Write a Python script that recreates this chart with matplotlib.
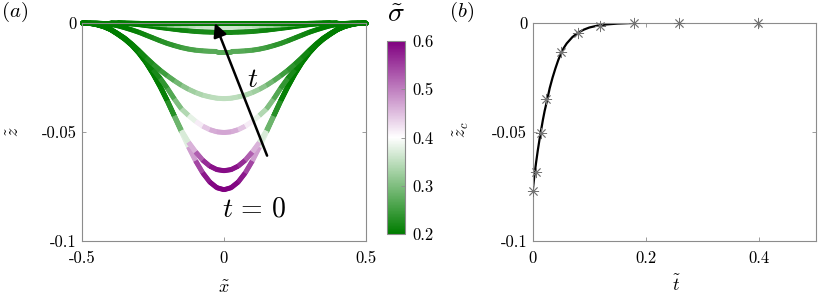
import numpy as np
import matplotlib
matplotlib.use('Agg')
import matplotlib.pyplot as plt
from matplotlib.collections import LineCollection
from matplotlib.colors import LinearSegmentedColormap, Normalize
from matplotlib.cm import ScalarMappable

plt.rcParams['font.family'] = 'serif'
plt.rcParams['font.serif'] = ['cmr10']
plt.rcParams['mathtext.fontset'] = 'cm'
plt.rcParams['axes.unicode_minus'] = False

# --- panel (a): half profiles z(x) for x >= 0 (profiles are symmetric) ---
x_half = [0, 0.025, 0.05, 0.075, 0.1, 0.125, 0.15, 0.175, 0.2, 0.225, 0.25,
          0.275, 0.3, 0.325, 0.35, 0.375, 0.4, 0.425, 0.45, 0.475, 0.5]

z1 = [-0.0765, -0.0756, -0.0730, -0.0688, -0.0633, -0.0569, -0.0500, -0.0429, -0.0359, -0.0294, -0.0235,
      -0.0183, -0.0140, -0.0104, -0.0076, -0.0053, -0.0032, -0.0018, -0.0009, -0.0003, 0.0]
z2 = [-0.0678, -0.0673, -0.0657, -0.0630, -0.0592, -0.0548, -0.0494, -0.0427, -0.0357, -0.0292, -0.0233,
      -0.0181, -0.0138, -0.0102, -0.0074, -0.0051, -0.0031, -0.0017, -0.0008, -0.0003, 0.0]
z3 = [-0.0503, -0.0500, -0.0490, -0.0474, -0.0452, -0.0425, -0.0395, -0.0350, -0.0300, -0.0255, -0.0215,
      -0.0175, -0.0136, -0.0101, -0.0073, -0.0051, -0.0031, -0.0017, -0.0008, -0.0002, 0.0]
z4 = [-0.0348, -0.0346, -0.0340, -0.0332, -0.0320, -0.0305, -0.0287, -0.0266, -0.0243, -0.0218, -0.0190,
      -0.0160, -0.0128, -0.0098, -0.0071, -0.0050, -0.0031, -0.0017, -0.0008, -0.0002, 0.0]
z5 = [-0.0132, -0.0132, -0.0131, -0.0129, -0.0126, -0.0121, -0.0114, -0.0105, -0.0095, -0.0083, -0.0070,
      -0.0057, -0.0044, -0.0033, -0.0023, -0.0014, -0.0008, -0.0004, -0.0001, 0.0, 0.0]
z6 = [-0.0044, -0.0044, -0.0043, -0.0042, -0.0040, -0.0037, -0.0034, -0.0030, -0.0026, -0.0022, -0.0017,
      -0.0013, -0.0009, -0.0006, -0.0003, -0.0001, 0.0, 0.0, 0.0, 0.0, 0.0]
z7 = [-0.0018, -0.0018, -0.0017, -0.0016, -0.0015, -0.0014, -0.0013, -0.0012, -0.0010, -0.0008, -0.0006,
      -0.0005, -0.0003, -0.0002, -0.0001, 0.0, 0.0, 0.0, 0.0, 0.0, 0.0]
z8 = [0.0] * 21

s1 = [0.60, 0.60, 0.59, 0.57, 0.52, 0.43, 0.32, 0.25, 0.21, 0.20, 0.20,
      0.20, 0.20, 0.20, 0.20, 0.20, 0.20, 0.20, 0.20, 0.20, 0.20]
s2 = [0.59, 0.59, 0.58, 0.55, 0.50, 0.42, 0.32, 0.25, 0.21, 0.20, 0.20,
      0.20, 0.20, 0.20, 0.20, 0.20, 0.20, 0.20, 0.20, 0.20, 0.20]
s3 = [0.47, 0.47, 0.46, 0.43, 0.40, 0.36, 0.32, 0.28, 0.25, 0.23, 0.21,
      0.20, 0.20, 0.20, 0.20, 0.20, 0.20, 0.20, 0.20, 0.20, 0.20]
s4 = [0.35, 0.35, 0.345, 0.34, 0.33, 0.32, 0.30, 0.28, 0.26, 0.24, 0.23,
      0.22, 0.21, 0.20, 0.20, 0.20, 0.20, 0.20, 0.20, 0.20, 0.20]
s5 = [0.27, 0.27, 0.27, 0.265, 0.26, 0.255, 0.25, 0.24, 0.235, 0.23, 0.22,
      0.215, 0.21, 0.20, 0.20, 0.20, 0.20, 0.20, 0.20, 0.20, 0.20]
s6 = [0.22, 0.22, 0.22, 0.22, 0.22, 0.215, 0.21, 0.21, 0.21, 0.205, 0.20,
      0.20, 0.20, 0.20, 0.20, 0.20, 0.20, 0.20, 0.20, 0.20, 0.20]
s7 = [0.36, 0.36, 0.36, 0.355, 0.35, 0.34, 0.33, 0.32, 0.30, 0.28, 0.26,
      0.24, 0.22, 0.21, 0.20, 0.20, 0.20, 0.20, 0.20, 0.20, 0.20]
s8 = [0.20] * 21

profiles = [(z1, s1), (z2, s2), (z3, s3), (z4, s4), (z5, s5), (z6, s6), (z7, s7),
            (z8, s8), (z8, s8), (z8, s8)]

# --- panel (b): centre depth against time ---
t_line = [0, 0.003, 0.006, 0.009, 0.012, 0.015, 0.018, 0.021, 0.025, 0.030, 0.035, 0.040,
          0.045, 0.050, 0.055, 0.060, 0.070, 0.080, 0.090, 0.100, 0.115, 0.130, 0.150,
          0.180, 0.220, 0.300, 0.500]
zc_line = [-0.0772, -0.0700, -0.0640, -0.0585, -0.0535, -0.0490, -0.0445, -0.0405, -0.0360,
           -0.0300, -0.0252, -0.0210, -0.0172, -0.0140, -0.0115, -0.0095, -0.0066, -0.0046,
           -0.0032, -0.0022, -0.0013, -0.0008, -0.0004, -0.0001, 0.0, 0.0, 0.0]
t_mark = [0.0008, 0.0058, 0.0150, 0.0235, 0.0505, 0.0805, 0.1190, 0.1780, 0.2580, 0.3980]
zc_mark = [-0.0770, -0.0684, -0.0505, -0.0350, -0.0136, -0.0049, -0.0015, 0.0, 0.0, 0.0]

xa_ticks = [-0.5, 0, 0.5]
xa_labels = ['-0.5', '0', '0.5']
z_ticks = [-0.1, -0.05, 0]
z_labels = ['-0.1', '-0.05', '0']
tb_ticks = [0, 0.2, 0.4]
tb_labels = ['0', '0.2', '0.4']
cb_ticks = [0.2, 0.3, 0.4, 0.5, 0.6]
cb_labels = ['0.2', '0.3', '0.4', '0.5', '0.6']


def mirror(h):
    h = np.asarray(h, dtype=float)
    return np.concatenate([h[:0:-1], h])


def style(ax):
    for sp in ax.spines.values():
        sp.set_color('0.55')
        sp.set_linewidth(0.8)
    ax.tick_params(direction='in', length=3, width=0.6, color='0.55',
                   top=True, right=True, labelsize=12, labelcolor='k')
    ax.tick_params(axis='x', pad=7)
    ax.tick_params(axis='y', pad=4)


W, H = 829, 303
fig = plt.figure(figsize=(W / 100, H / 100), dpi=100)
ax1 = fig.add_axes([82.3 / W, 1 - 241 / H, 283.4 / W, 218.3 / H])
cax = fig.add_axes([387 / W, 1 - 234 / H, 18 / W, 193 / H])
ax2 = fig.add_axes([532.7 / W, 1 - 241 / H, 283.3 / W, 218.3 / H])

cmap = LinearSegmentedColormap.from_list('gwp', ['#007d00', '#ffffff', '#800080'])
norm = Normalize(0.2, 0.6)

x_full = np.concatenate([-np.asarray(x_half)[:0:-1], np.asarray(x_half)])
lw = 3.6
for z, s in profiles:
    zf = mirror(z)
    sf = mirror(s)
    pts = np.column_stack([x_full, zf]).reshape(-1, 1, 2)
    segs = np.concatenate([pts[:-1], pts[1:]], axis=1)
    cvals = 0.5 * (sf[:-1] + sf[1:])
    # round-capped copy underneath closes the joints, butt-capped copy on top
    for width, cap in ((lw * 0.9, 'round'), (lw, 'butt')):
        lc = LineCollection(segs, cmap=cmap, norm=norm, linewidths=width,
                            capstyle=cap, clip_on=False)
        lc.set_array(cvals)
        ax1.add_collection(lc)

ax1.annotate('', xy=(-0.032, -0.0002), xytext=(0.152, -0.0609),
             arrowprops=dict(arrowstyle='-|>', color='k', lw=1.8, mutation_scale=20,
                             shrinkA=0, shrinkB=0))
ax1.text(0.102, -0.0261, r'$t$', fontsize=20, ha='center', va='center')
ax1.text(0.106, -0.0854, r'$t\,=\,0$', fontsize=20, ha='center', va='center')

ax1.set_xlim(-0.5, 0.5)
ax1.set_ylim(-0.1, 0)
ax1.set_xticks(xa_ticks)
ax1.set_xticklabels(xa_labels)
ax1.set_yticks(z_ticks)
ax1.set_yticklabels(z_labels)
style(ax1)
ax1.set_xlabel(r'$\tilde{x}$', fontsize=13, va='center')
ax1.xaxis.set_label_coords(0.5, -0.215)
ax1.set_ylabel(r'$\tilde{z}$', fontsize=13, va='center')
ax1.yaxis.set_label_coords(-0.24, 0.5)

cb = fig.colorbar(ScalarMappable(norm=norm, cmap=cmap), cax=cax, ticks=cb_ticks)
cb.set_ticklabels(cb_labels)
cb.outline.set_edgecolor('0.55')
cb.outline.set_linewidth(0.8)
cax.tick_params(direction='in', length=3, width=0.6, color='0.55', labelsize=12, pad=5)

ax2.plot(t_line, zc_line, color='k', lw=1.6, zorder=2)
ax2.plot(t_mark, zc_mark, ls='none', marker=(8, 2, 0), ms=8, mew=0.6,
         color='0.45', zorder=3, clip_on=False)
ax2.set_xlim(0, 0.5)
ax2.set_ylim(-0.1, 0)
ax2.set_xticks(tb_ticks)
ax2.set_xticklabels(tb_labels)
ax2.set_yticks(z_ticks)
ax2.set_yticklabels(z_labels)
style(ax2)
ax2.set_xlabel(r'$\tilde{t}$', fontsize=13, va='center')
ax2.xaxis.set_label_coords(0.506, -0.197)
ax2.set_ylabel(r'$\tilde{z}_c$', fontsize=13, va='center')
ax2.yaxis.set_label_coords(-0.25, 0.508)

fig.text(15 / W, 1 - 12 / H, r'$(a)$', fontsize=15, ha='center', va='center')
fig.text(462 / W, 1 - 12 / H, r'$(b)$', fontsize=15, ha='center', va='center')
fig.text(396 / W, 1 - 15 / H, r'$\tilde{\sigma}$', fontsize=20, ha='center', va='center')

fig.savefig('out.png', dpi=100)
